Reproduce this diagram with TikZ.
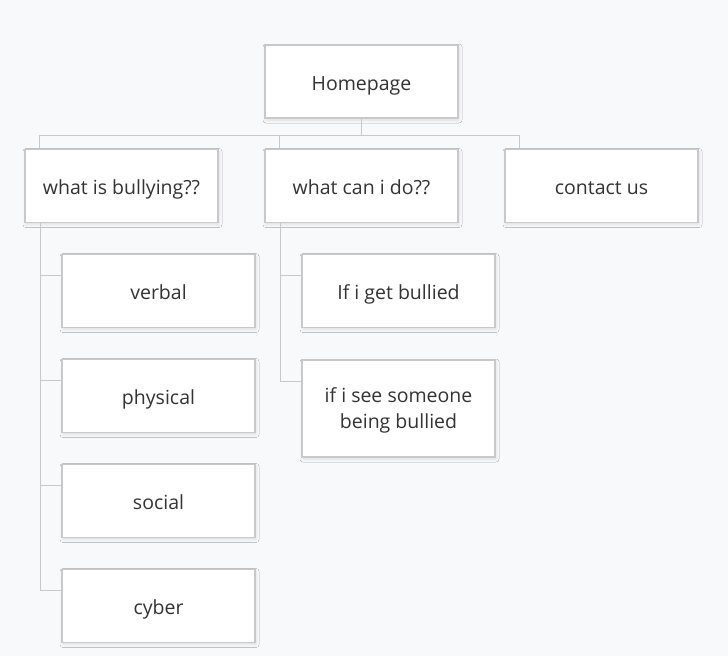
\documentclass[tikz,border=0pt]{standalone}
\usepackage{fontspec}
\setmainfont{Open Sans}
\usetikzlibrary{shadows.blur}
\definecolor{bg}{HTML}{F8F9FB}
\definecolor{boxline}{HTML}{C9C9C9}
\definecolor{conn}{HTML}{C8C8C8}
\definecolor{txt}{HTML}{333333}
\begin{document}
\begin{tikzpicture}[x=1pt,y=-1pt,
  card/.style={draw=boxline, line width=1.5pt, fill=white, minimum width=193pt, minimum height=73pt,
    inner sep=2pt, align=center, text=txt, font=\fontsize{19.5}{26}\selectfont,
    text height=17pt, text depth=0pt,
    blur shadow={shadow xshift=1pt, shadow yshift=-2pt, shadow blur radius=3pt, shadow opacity=10}},
  link/.style={draw=conn, line width=1.2pt}]
\fill[bg] (0,0) rectangle (728,656);
\useasboundingbox (0,0) rectangle (728,656);
\node[card] (home) at (361.5,81.5) {Homepage};
\node[card] (what) at (121.5,186) {what is bullying??};
\node[card] (can) at (361.5,186) {what can i do??};
\node[card] (contact) at (601.5,186) {contact us};
\node[card] (verbal) at (158.5,291) {verbal};
\node[card] (physical) at (158.5,396) {physical};
\node[card] (social) at (158.5,501) {social};
\node[card] (cyber) at (158.5,606) {cyber};
\node[card] (get) at (398.5,291) {If i get bullied};
\node[card, minimum height=97pt, text height=39pt] (see) at (398.5,408.5) {if i see someone\\being bullied};
\foreach \c in {what,can,contact}{
  \draw[link] (home.south) -- ++(0,16.5) -| ([xshift=15pt]\c.north west);
}
\foreach \c in {verbal,physical,social,cyber}{
  \draw[link] ([xshift=16pt]what.south west) |- ([yshift=-22pt]\c.north west);
}
\foreach \c in {get,see}{
  \draw[link] ([xshift=16pt]can.south west) |- ([yshift=-22pt]\c.north west);
}
\end{tikzpicture}
\end{document}
